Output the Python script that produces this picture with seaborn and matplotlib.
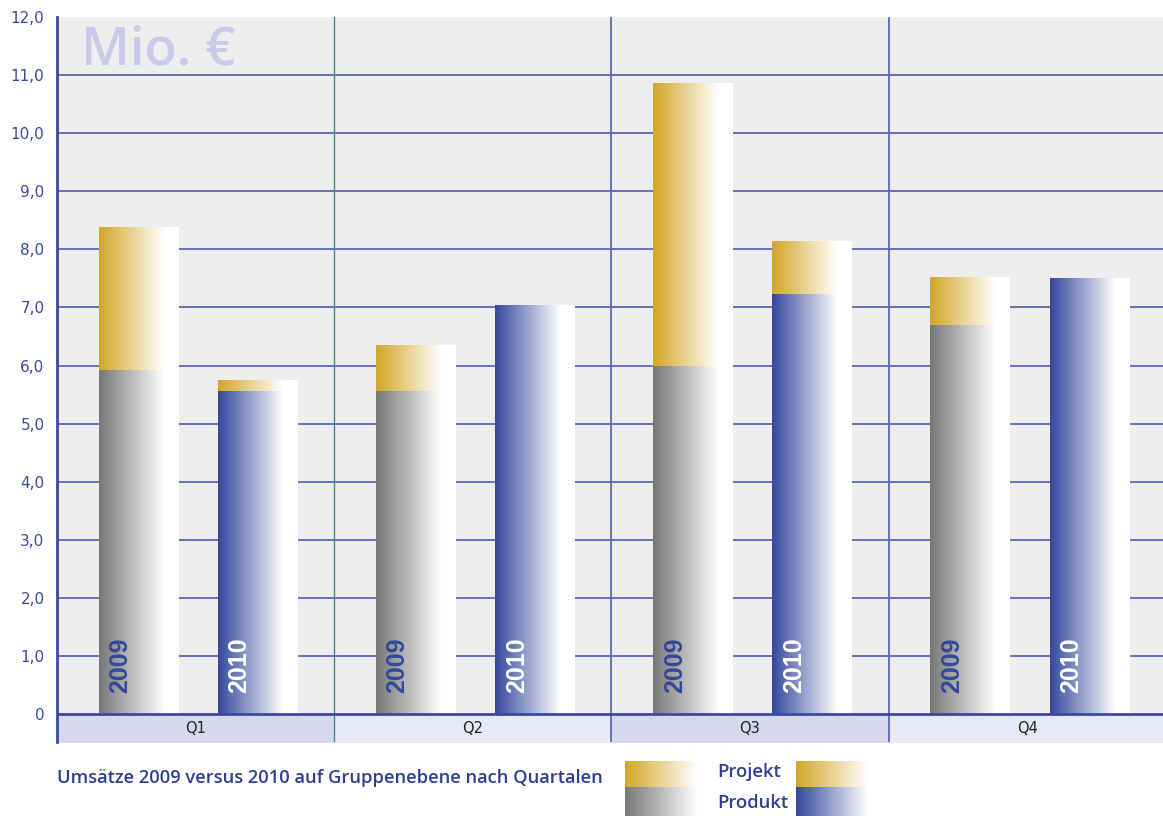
import matplotlib
matplotlib.use('Agg')
import numpy as np
import pandas as pd
import matplotlib.pyplot as plt
import seaborn as sns
from matplotlib.colors import to_rgb

# values in Mio. EUR
quarters = ["Q1", "Q2", "Q3", "Q4"]
years = ["2009", "2010"]
produkt_2009 = [5.92, 5.56, 5.99, 6.68]
projekt_2009 = [2.45, 0.78, 4.87, 0.84]
produkt_2010 = [5.56, 7.03, 7.22, 7.50]
projekt_2010 = [0.18, 0.00, 0.91, 0.00]
y_ticks = list(range(13))
y_ticklabels = ["0"] + ["%d,0" % v for v in range(1, 13)]
legend_labels = ["Projekt", "Produkt"]
caption = "Umsätze 2009 versus 2010 auf Gruppenebene nach Quartalen"

GOLD = "#d3a628"
GRAY = "#777777"
BLUE = "#34489c"
NAVY = "#2e3f8f"
GRID = "#5c66b8"

rows = []
for i, q in enumerate(quarters):
    rows.append({"quartal": q, "jahr": "2009", "produkt": produkt_2009[i],
                 "gesamt": produkt_2009[i] + projekt_2009[i]})
    rows.append({"quartal": q, "jahr": "2010", "produkt": produkt_2010[i],
                 "gesamt": produkt_2010[i] + projekt_2010[i]})
df = pd.DataFrame(rows)


def gradient(color, n=256, stop=0.82):
    t = np.clip(np.linspace(0, 1, n) / stop, 0, 1)
    c = np.array(to_rgb(color))
    rgb = c[None, :] * (1 - t[:, None]) + t[:, None]
    return rgb[None, :, :]


def fade_patches(ax, patches, zorder, shift=0.01):
    # replace flat seaborn bars with a left-to-right fade to white
    for p in patches:
        p.set_x(p.get_x() + shift)
        h = p.get_height()
        if h <= 0:
            continue
        x0, w = p.get_x(), p.get_width()
        ax.imshow(gradient(p.get_facecolor()[:3]), extent=[x0, x0 + w, 0, h],
                  aspect="auto", interpolation="bilinear", zorder=zorder)
        p.set_visible(False)


W, H = 1163, 816
fig = plt.figure(figsize=(W / 100, H / 100), dpi=100)
plt.rcParams['font.family'] = ['DejaVu Sans']
ax = fig.add_axes([57 / W, 74 / H, 1 - 57 / W, (742 - 17) / H])
ax.set_facecolor("#eeeeee")

bar_kw = dict(x="quartal", order=quarters, hue="jahr", hue_order=years,
              width=0.86, gap=0.33, dodge=True, errorbar=None, legend=False,
              saturation=1, ax=ax)

n0 = len(ax.patches)
sns.barplot(data=df, y="gesamt", palette={"2009": GOLD, "2010": GOLD}, **bar_kw)
total_patches = ax.patches[n0:]
n1 = len(ax.patches)
sns.barplot(data=df, y="produkt", palette={"2009": GRAY, "2010": BLUE}, **bar_kw)
prod_patches = ax.patches[n1:]

fade_patches(ax, total_patches, 2)
fade_patches(ax, prod_patches, 3)

# year labels inside the bars
for p in prod_patches:
    is_2010 = np.allclose(p.get_facecolor()[:3], to_rgb(BLUE))
    ax.text(p.get_x() + p.get_width() * 0.27, 0.36, "2010" if is_2010 else "2009",
            rotation=90, ha="center", va="bottom", fontsize=18, fontweight="bold",
            family=["Liberation Sans", "DejaVu Sans"],
            color="white" if is_2010 else BLUE, zorder=6)

# grid, axes and quarter band
for y in y_ticks[1:-1]:
    ax.axhline(y, color=GRID, lw=1.3, zorder=1)
ax.axhline(0, color="#3a4aa0", lw=2, zorder=5)
for i, q in enumerate(quarters):
    ax.fill_between([i - 0.5, i + 0.5], -0.48, 0,
                    color="#d6d8ee" if i % 2 == 0 else "#e8e9f6", zorder=1)
    ax.text(i, -0.24, q, ha="center", va="center", fontsize=10.5, color="#222222")
ax.axvline(0.5, color="#3f8c8c", lw=1.0, zorder=1)
for x in (1.5, 2.5):
    ax.axvline(x, color=GRID, lw=1.3, zorder=1)

ax.set_xlim(-0.5, 3.49)
ax.set_ylim(-0.48, 12)
ax.set_xticks([])
ax.set_xlabel("")
ax.set_ylabel("")
ax.set_yticks(y_ticks)
ax.set_yticklabels(y_ticklabels)
ax.tick_params(axis="y", length=0, pad=9, labelsize=11, labelcolor="#3a4a9a")
for s in ("top", "right", "bottom"):
    ax.spines[s].set_visible(False)
ax.spines["left"].set_color("#3a4aa0")
ax.spines["left"].set_linewidth(2)
ax.grid(False)

ax.text(0.022, 0.99, "Mio. €", transform=ax.transAxes, ha="left", va="top",
        fontsize=38, fontweight="semibold", family=["Open Sans", "DejaVu Sans"],
        color="#c9cbe8", zorder=1)

# caption and legend
fig.text(57 / W, 1 - 778 / H, caption, ha="left", va="center", fontsize=13.2,
         fontweight="semibold", family=["Open Sans", "DejaVu Sans"], color=NAVY)


def swatch(x, y, w, h, color):
    sax = fig.add_axes([x / W, 1 - (y + h) / H, w / W, h / H])
    sax.imshow(gradient(color, stop=0.9), aspect="auto", interpolation="bilinear")
    sax.axis("off")


swatch(625, 761, 80, 26, GOLD)
swatch(625, 787, 80, 29, GRAY)
swatch(796, 761, 80, 26, GOLD)
swatch(796, 787, 80, 29, BLUE)
for lab, yy in zip(legend_labels, (772, 803)):
    fig.text(717 / W, 1 - yy / H, lab, ha="left", va="center", fontsize=13.3,
             fontweight="semibold", family=["Open Sans", "DejaVu Sans"], color=NAVY)

fig.savefig("out.png", dpi=100)
